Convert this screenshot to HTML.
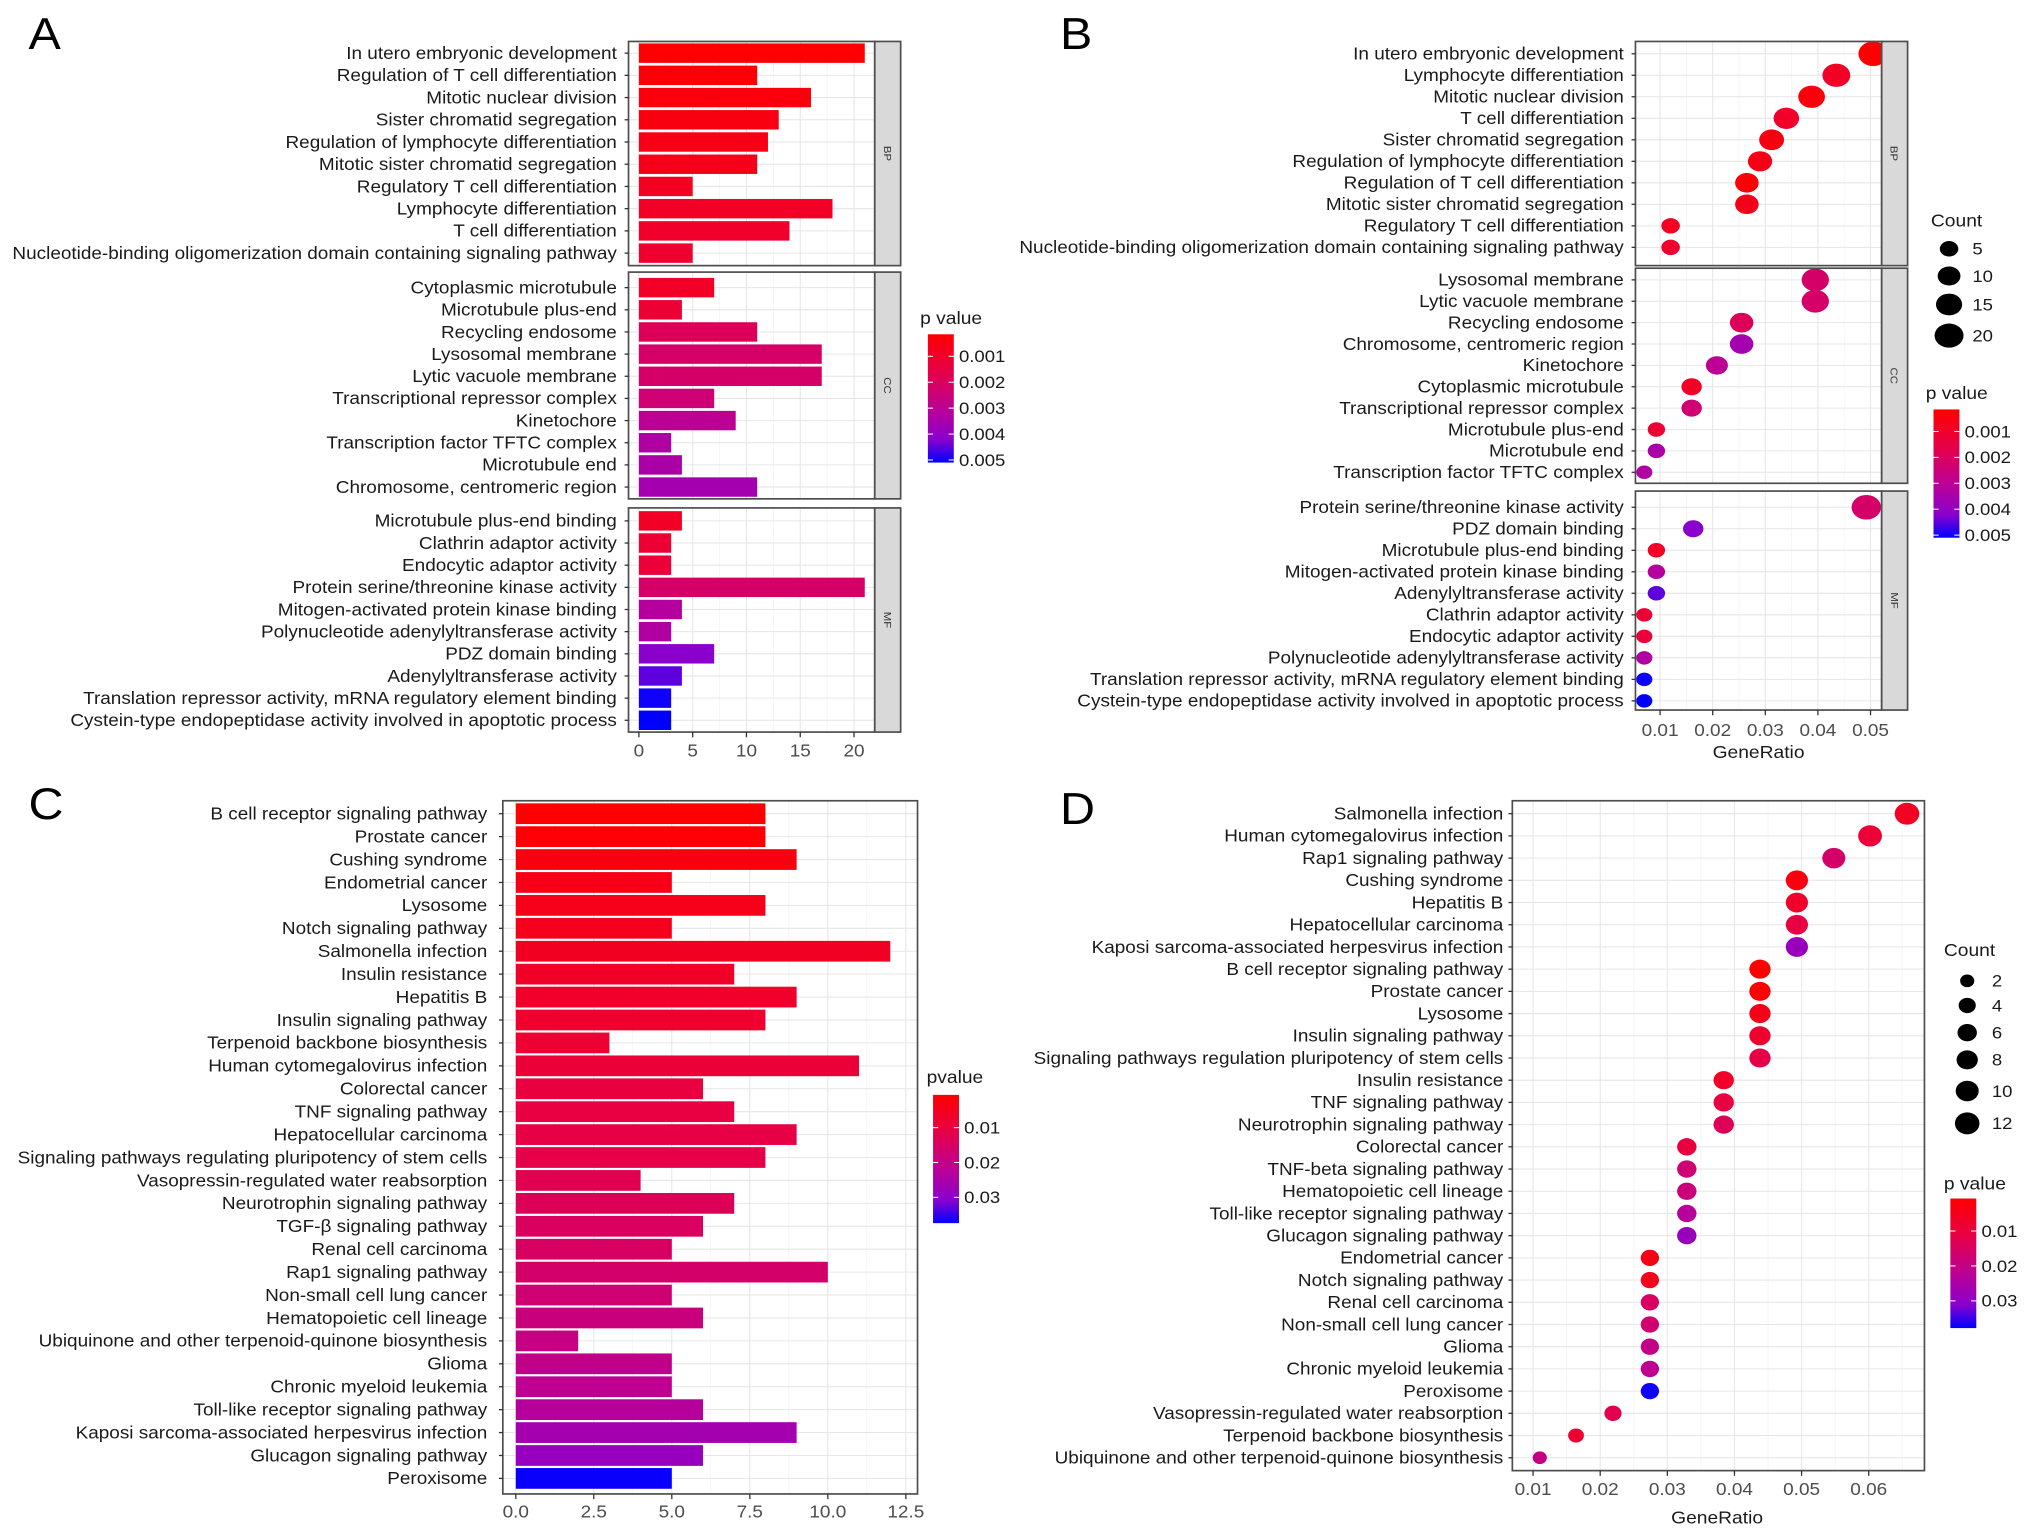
<!DOCTYPE html>
<html><head><meta charset="utf-8"><title>GO/KEGG enrichment</title>
<style>
html,body{margin:0;padding:0;background:#fff;}
svg{display:block;font-family:"Liberation Sans",Arial,sans-serif;}
</style></head>
<body>
<svg id="fig" width="2032" height="1538" viewBox="0 0 1568 1187" preserveAspectRatio="none" xmlns="http://www.w3.org/2000/svg">
<defs>
<linearGradient id="gA" x1="0" y1="0" x2="0" y2="1">
<stop offset="0" stop-color="#ff0000"/><stop offset="0.3" stop-color="#e5004a"/><stop offset="0.6" stop-color="#b8009a"/><stop offset="0.82" stop-color="#8a00cc"/><stop offset="1" stop-color="#0000ff"/>
</linearGradient>
</defs>
</svg>
<script>
// ---------- Panel A data (GO bar) ----------
const aBPTerms = ["In utero embryonic development","Regulation of T cell differentiation","Mitotic nuclear division","Sister chromatid segregation","Regulation of lymphocyte differentiation","Mitotic sister chromatid segregation","Regulatory T cell differentiation","Lymphocyte differentiation","T cell differentiation","Nucleotide-binding oligomerization domain containing signaling pathway"];
const aBPCounts = [21,11,16,13,12,11,5,18,14,5];
const aBPP = [0.0002,0.0003,0.0004,0.0005,0.0006,0.0007,0.0008,0.0009,0.0010,0.0011];
const aCCTerms = ["Cytoplasmic microtubule","Microtubule plus-end","Recycling endosome","Lysosomal membrane","Lytic vacuole membrane","Transcriptional repressor complex","Kinetochore","Transcription factor TFTC complex","Microtubule end","Chromosome, centromeric region"];
const aCCCounts = [7,4,11,17,17,7,9,3,4,11];
const aCCP = [0.0009,0.0012,0.0019,0.0022,0.0022,0.0024,0.0030,0.0033,0.0034,0.0036];
const aMFTerms = ["Microtubule plus-end binding","Clathrin adaptor activity","Endocytic adaptor activity","Protein serine/threonine kinase activity","Mitogen-activated protein kinase binding","Polynucleotide adenylyltransferase activity","PDZ domain binding","Adenylyltransferase activity","Translation repressor activity, mRNA regulatory element binding","Cystein-type endopeptidase activity involved in apoptotic process"];
const aMFCounts = [4,3,3,21,4,3,7,4,3,3];
const aMFP = [0.0009,0.0012,0.0013,0.0022,0.0032,0.0033,0.0042,0.0045,0.0050,0.0051];
const aTicks = [0,5,10,15,20];
const aLegendTicks = [0.001,0.002,0.003,0.004,0.005];

// ---------- Panel B data (GO dot) ----------
const bBPTerms = ["In utero embryonic development","Lymphocyte differentiation","Mitotic nuclear division","T cell differentiation","Sister chromatid segregation","Regulation of lymphocyte differentiation","Regulation of T cell differentiation","Mitotic sister chromatid segregation","Regulatory T cell differentiation","Nucleotide-binding oligomerization domain containing signaling pathway"];
const bBPRatio = [0.0505,0.0435,0.0388,0.0340,0.0312,0.0290,0.0265,0.0265,0.0120,0.0120];
const bBPCount = [21,18,16,14,13,12,11,11,5,5];
const bBPP = [0.0002,0.0009,0.0004,0.0010,0.0005,0.0006,0.0003,0.0007,0.0008,0.0011];
const bCCTerms = ["Lysosomal membrane","Lytic vacuole membrane","Recycling endosome","Chromosome, centromeric region","Kinetochore","Cytoplasmic microtubule","Transcriptional repressor complex","Microtubule plus-end","Microtubule end","Transcription factor TFTC complex"];
const bCCRatio = [0.0395,0.0395,0.0255,0.0255,0.0208,0.0160,0.0160,0.0093,0.0093,0.0070];
const bCCCount = [17,17,11,11,9,7,7,4,4,3];
const bCCP = [0.0022,0.0022,0.0019,0.0036,0.0030,0.0009,0.0024,0.0012,0.0034,0.0033];
const bMFTerms = ["Protein serine/threonine kinase activity","PDZ domain binding","Microtubule plus-end binding","Mitogen-activated protein kinase binding","Adenylyltransferase activity","Clathrin adaptor activity","Endocytic adaptor activity","Polynucleotide adenylyltransferase activity","Translation repressor activity, mRNA regulatory element binding","Cystein-type endopeptidase activity involved in apoptotic process"];
const bMFRatio = [0.0492,0.0163,0.0093,0.0093,0.0093,0.0070,0.0070,0.0070,0.0070,0.0070];
const bMFCount = [21,7,4,4,4,3,3,3,3,3];
const bMFP = [0.0022,0.0042,0.0009,0.0032,0.0045,0.0012,0.0013,0.0033,0.0050,0.0051];
const bTicks = [0.01,0.02,0.03,0.04,0.05];
const bCountLegend = [5,10,15,20];

// ---------- Panel C data (KEGG bar) ----------
const cTerms = ["B cell receptor signaling pathway","Prostate cancer","Cushing syndrome","Endometrial cancer","Lysosome","Notch signaling pathway","Salmonella infection","Insulin resistance","Hepatitis B","Insulin signaling pathway","Terpenoid backbone biosynthesis","Human cytomegalovirus infection","Colorectal cancer","TNF signaling pathway","Hepatocellular carcinoma","Signaling pathways regulating pluripotency of stem cells","Vasopressin-regulated water reabsorption","Neurotrophin signaling pathway","TGF-β signaling pathway","Renal cell carcinoma","Rap1 signaling pathway","Non-small cell lung cancer","Hematopoietic cell lineage","Ubiquinone and other terpenoid-quinone biosynthesis","Glioma","Chronic myeloid leukemia","Toll-like receptor signaling pathway","Kaposi sarcoma-associated herpesvirus infection","Glucagon signaling pathway","Peroxisome"];
const cCounts = [8,8,9,5,8,5,12,7,9,8,3,11,6,7,9,8,4,7,6,5,10,5,6,2,5,5,6,9,6,5];
const cP = [0.0008,0.0010,0.0030,0.0040,0.0045,0.0050,0.0060,0.0065,0.0070,0.0075,0.0080,0.0090,0.0100,0.0105,0.0110,0.0115,0.0125,0.0135,0.0145,0.0150,0.0160,0.0170,0.0185,0.0195,0.0205,0.0215,0.0230,0.0260,0.0285,0.0370];
const cTicks = [0,2.5,5,7.5,10,12.5];
const cLegendTicks = [0.01,0.02,0.03];

// ---------- Panel D data (KEGG dot) ----------
const dTerms = ["Salmonella infection","Human cytomegalovirus infection","Rap1 signaling pathway","Cushing syndrome","Hepatitis B","Hepatocellular carcinoma","Kaposi sarcoma-associated herpesvirus infection","B cell receptor signaling pathway","Prostate cancer","Lysosome","Insulin signaling pathway","Signaling pathways regulation pluripotency of stem cells","Insulin resistance","TNF signaling pathway","Neurotrophin signaling pathway","Colorectal cancer","TNF-beta signaling pathway","Hematopoietic cell lineage","Toll-like receptor signaling pathway","Glucagon signaling pathway","Endometrial cancer","Notch signaling pathway","Renal cell carcinoma","Non-small cell lung cancer","Glioma","Chronic myeloid leukemia","Peroxisome","Vasopressin-regulated water reabsorption","Terpenoid backbone biosynthesis","Ubiquinone and other terpenoid-quinone biosynthesis"];
const dRatio = [0.0657,0.0602,0.0548,0.0493,0.0493,0.0493,0.0493,0.0438,0.0438,0.0438,0.0438,0.0438,0.0384,0.0384,0.0384,0.0329,0.0329,0.0329,0.0329,0.0329,0.0274,0.0274,0.0274,0.0274,0.0274,0.0274,0.0274,0.0219,0.0164,0.0110];
const dCount = [12,11,10,9,9,9,9,8,8,8,8,8,7,7,7,6,6,6,6,6,5,5,5,5,5,5,5,4,3,2];
const dP = [0.0060,0.0090,0.0160,0.0030,0.0070,0.0110,0.0285,0.0008,0.0010,0.0045,0.0075,0.0115,0.0065,0.0105,0.0135,0.0100,0.0175,0.0185,0.0230,0.0285,0.0040,0.0050,0.0150,0.0170,0.0205,0.0215,0.0370,0.0125,0.0080,0.0195];
const dTicks = [0.01,0.02,0.03,0.04,0.05,0.06];
const dTickLabels = ["0.01","0.02","0.03","0.04","0.05","0.06"];
const dCountLegend = [2,4,6,8,10,12];
const dLegendTicks = [0.01,0.02,0.03];

// ---------- helpers ----------
const NS = "http://www.w3.org/2000/svg";
const svg = document.getElementById("fig");
const STRETCH = 1.1;
function mk(tag, parent){ const e = document.createElementNS(NS, tag); (parent||svg).appendChild(e); return e; }
function setA(e, o){ for (const k in o) e.setAttribute(k, o[k]); return e; }
function txt(parent, x, y, s, size, anchor, fill){
  const t = mk("text", parent);
  setA(t, {x:x, y:y, "font-size":size, "text-anchor":anchor||"start", fill:fill||"#1a1a1a"});
  t.textContent = s;
  try {
    const w = t.getComputedTextLength();
    if (w > 0) { t.setAttribute("textLength", (w*STRETCH).toFixed(2)); t.setAttribute("lengthAdjust", "spacingAndGlyphs"); }
  } catch(e) {}
  return t;
}
const stops = [[0,[255,0,0]],[0.3,[229,0,74]],[0.6,[184,0,154]],[0.82,[138,0,204]],[1,[0,0,255]]];
function colorT(t){
  t = Math.max(0, Math.min(1, t));
  for (let i=1;i<stops.length;i++){
    if (t <= stops[i][0]){
      const a = stops[i-1], b = stops[i], f = (t-a[0])/(b[0]-a[0]);
      const c = a[1].map((v,j)=>Math.round(v+(b[1][j]-v)*f));
      return "rgb("+c.join(",")+")";
    }
  }
  return "rgb(0,0,255)";
}
function panelFrame(g, x0, y0, x1, y1, gridXs, minorXs, rowYs){
  const bg = mk("rect", g); setA(bg, {x:x0,y:y0,width:x1-x0,height:y1-y0,fill:"#fff"});
  minorXs.forEach(x=>{ const l = mk("line", g); setA(l,{x1:x,x2:x,y1:y0,y2:y1,stroke:"#f2f2f2","stroke-width":0.5}); });
  gridXs.forEach(x=>{ const l = mk("line", g); setA(l,{x1:x,x2:x,y1:y0,y2:y1,stroke:"#e6e6e6","stroke-width":0.8}); });
  rowYs.forEach(y=>{ const l = mk("line", g); setA(l,{x1:x0,x2:x1,y1:y,y2:y,stroke:"#e6e6e6","stroke-width":0.8}); });
}
function border(g, x0, y0, x1, y1){ const r = mk("rect", g); setA(r,{x:x0,y:y0,width:x1-x0,height:y1-y0,fill:"none",stroke:"#4d4d4d","stroke-width":1.3}); return r; }
function strip(g, x0, y0, x1, y1, label){
  const r = mk("rect", g); setA(r,{x:x0,y:y0,width:x1-x0,height:y1-y0,fill:"#d9d9d9",stroke:"#4d4d4d","stroke-width":1.3});
  
  
  const cx = (x0+x1)/2, cy = (y0+y1)/2;
  const t = txt(g, cx, cy, label, 8, "middle", "#333");
  t.setAttribute("transform", "rotate(90 "+cx+" "+cy+")");
  t.setAttribute("dy", "3");
  
  
}
function rowLabels(g, xr, ys, terms, tickX){
  terms.forEach((s,i)=>{
    const t = txt(g, xr, ys[i]+4.5, s, 13.3, "end", "#1a1a1a");
    
    
    const l = mk("line", g); setA(l,{x1:tickX-3,x2:tickX,y1:ys[i],y2:ys[i],stroke:"#333","stroke-width":1});
  });
}
function gradLegend(g, title, tx, ty, bx, by0, by1, ticks, yOf, fmt){
  const tt = txt(g, tx, ty, title, 13.5, "start", "#1a1a1a");
  
  
  const r = mk("rect", g); setA(r,{x:bx,y:by0,width:20,height:by1-by0,fill:"url(#gA)"});
  
  
  ticks.forEach((v,i)=>{
    const y = yOf(v);
    const l1 = mk("line", g); setA(l1,{x1:bx,x2:bx+4,y1:y,y2:y,stroke:"#fff","stroke-width":0.8});
    const l2 = mk("line", g); setA(l2,{x1:bx+16,x2:bx+20,y1:y,y2:y,stroke:"#fff","stroke-width":0.8});
    const t = txt(g, bx+24, y+4.5, fmt(v), 13, "start", "#1a1a1a");
    
    
  });
}
function panelLetter(s, x, y){
  const t = txt(svg, x, y, s, 34, "start", "#000");
  
  
}
function rows(y0, step, n){ const r=[]; for(let i=0;i<n;i++) r.push(y0+i*step); return r; }

// ---------- Panel A ----------
(function(){
  const g = mk("g");  
  panelLetter("A", 22, 38);
  const x0=485, x1=675, sx0=493, pxPer=8.3;
  const xs = v => sx0 + v*pxPer;
  const pMin=0.00015, pMax=0.0051, cbT=258, cbB=357;
  const pT = p => (p-pMin)/(pMax-pMin);
  const facets = [
    {terms:aBPTerms, counts:aBPCounts, p:aBPP, y0:32, y1:205, first:41, step:17.15, lab:"BP"},
    {terms:aCCTerms, counts:aCCCounts, p:aCCP, y0:210, y1:385, first:222, step:17.1, lab:"CC"},
    {terms:aMFTerms, counts:aMFCounts, p:aMFP, y0:392, y1:565, first:402, step:17.1, lab:"MF"}
  ];
  const grid = aTicks.map(xs), minor = [2.5,7.5,12.5,17.5,22.5].map(xs).filter(x=>x<x1);
  facets.forEach(f=>{
    const ys = rows(f.first, f.step, f.terms.length);
    panelFrame(g, x0, f.y0, x1, f.y1, grid, minor, ys);
    f.counts.forEach((c,i)=>{
      const b = mk("rect", g);
      setA(b,{x:xs(0), y:ys[i]-7.5, width:xs(c)-xs(0), height:15, fill:colorT(pT(f.p[i]))});
      
      
    });
    border(g, x0, f.y0, x1, f.y1);
    strip(g, x1, f.y0, 695, f.y1, f.lab);
    rowLabels(g, 476, ys, f.terms, x0);
  });
  aTicks.forEach(v=>{
    const l = mk("line", g); setA(l,{x1:xs(v),x2:xs(v),y1:565,y2:569,stroke:"#333"});
    const t = txt(g, xs(v), 584, String(v), 13.3, "middle", "#4d4d4d");
    
    
  });
  gradLegend(g, "p value", 710, 250, 716, cbT, cbB, aLegendTicks, p => cbT + pT(p)*(cbB-cbT), v=>v.toFixed(3));
})();

// ---------- Panel B ----------
(function(){
  const g = mk("g");  
  panelLetter("B", 818, 38);
  const x0=1262, x1=1452, pxPer=4060;
  const xs = v => 1281 + (v-0.01)*pxPer;
  const rad = c => 2.6 + 1.5*Math.sqrt(c);
  const pMin=0.00015, pMax=0.0051, cbT=316, cbB=415;
  const pT = p => (p-pMin)/(pMax-pMin);
  const facets = [
    {terms:bBPTerms, r:bBPRatio, c:bBPCount, p:bBPP, y0:32, y1:205, first:41.5, step:16.6, lab:"BP"},
    {terms:bCCTerms, r:bCCRatio, c:bCCCount, p:bCCP, y0:207, y1:373, first:216, step:16.5, lab:"CC"},
    {terms:bMFTerms, r:bMFRatio, c:bMFCount, p:bMFP, y0:379, y1:548, first:391.5, step:16.6, lab:"MF"}
  ];
  const grid = bTicks.map(xs), minor = [0.005,0.015,0.025,0.035,0.045,0.055].map(xs).filter(x=>x>x0&&x<x1);
  facets.forEach(f=>{
    const ys = rows(f.first, f.step, f.terms.length);
    panelFrame(g, x0, f.y0, x1, f.y1, grid, minor, ys);
    f.r.forEach((v,i)=>{
      const e = mk("ellipse", g);
      const rr = rad(f.c[i]);
      setA(e,{cx:xs(v), cy:ys[i], rx:rr*1.2, ry:rr, fill:colorT(pT(f.p[i]))});
      
      
    });
    border(g, x0, f.y0, x1, f.y1);
    strip(g, x1, f.y0, 1472, f.y1, f.lab);
    rowLabels(g, 1253, ys, f.terms, x0);
  });
  bTicks.forEach(v=>{
    const l = mk("line", g); setA(l,{x1:xs(v),x2:xs(v),y1:548,y2:552,stroke:"#333"});
    const t = txt(g, xs(v), 568, v.toFixed(2), 13.3, "middle", "#4d4d4d");
    
    
  });
  const xl = txt(g, 1357, 585, "GeneRatio", 13.5, "middle", "#1a1a1a");
  
  
  const ct = txt(g, 1490, 175, "Count", 13.5, "start", "#1a1a1a");
  
  
  const cy = [192,213,235,259];
  bCountLegend.forEach((c,i)=>{
    const e = mk("ellipse", g); const rr = rad(c);
    setA(e,{cx:1504, cy:cy[i], rx:rr*1.2, ry:rr, fill:"#000"});
    
    
    const t = txt(g, 1522, cy[i]+4.5, String(c), 13, "start", "#1a1a1a");
    
    
  });
  gradLegend(g, "p value", 1486, 308, 1492, cbT, cbB, aLegendTicks, p => cbT + pT(p)*(cbB-cbT), v=>v.toFixed(3));
})();

// ---------- Panel C ----------
(function(){
  const g = mk("g");  
  panelLetter("C", 22, 632);
  const x0=388, x1=708, y0=618, y1=1153, pxPer=24.08;
  const xs = v => 398 + v*pxPer;
  const ys = rows(628, 17.69, cTerms.length);
  const pMin=0.0006, pMax=0.0374, cbT=845, cbB=944;
  const pT = p => (p-pMin)/(pMax-pMin);
  panelFrame(g, x0, y0, x1, y1, cTicks.map(xs), [1.25,3.75,6.25,8.75,11.25].map(xs), ys);
  cCounts.forEach((c,i)=>{
    const b = mk("rect", g);
    setA(b,{x:xs(0), y:ys[i]-8, width:xs(c)-xs(0), height:16, fill:colorT(pT(cP[i]))});
    
    
  });
  border(g, x0, y0, x1, y1);
  rowLabels(g, 376, ys, cTerms, x0);
  cTicks.forEach(v=>{
    const l = mk("line", g); setA(l,{x1:xs(v),x2:xs(v),y1:y1,y2:y1+4,stroke:"#333"});
    const t = txt(g, xs(v), 1171, v.toFixed(1), 13.3, "middle", "#4d4d4d");
    
    
  });
  gradLegend(g, "pvalue", 715, 836, 720, cbT, cbB, cLegendTicks, p => cbT + pT(p)*(cbB-cbT), v=>v.toFixed(2));
})();

// ---------- Panel D ----------
(function(){
  const g = mk("g");  
  panelLetter("D", 818, 636);
  const x0=1167, x1=1485, y0=618, y1=1135, pxPer=5180;
  const xs = v => 1183 + (v-0.01)*pxPer;
  const ys = rows(628, 17.14, dTerms.length);
  const rad = c => 2.4 + 1.75*Math.sqrt(c);
  const pMin=0.0007, pMax=0.0378, cbT=925, cbB=1025;
  const pT = p => (p-pMin)/(pMax-pMin);
  panelFrame(g, x0, y0, x1, y1, dTicks.map(xs), [0.015,0.025,0.035,0.045,0.055,0.065].map(xs), ys);
  dRatio.forEach((v,i)=>{
    const e = mk("ellipse", g); const rr = rad(dCount[i]);
    setA(e,{cx:xs(v), cy:ys[i], rx:rr*1.12, ry:rr, fill:colorT(pT(dP[i]))});
    
    
  });
  border(g, x0, y0, x1, y1);
  rowLabels(g, 1160, ys, dTerms, x0);
  dTicks.forEach((v,i)=>{
    const l = mk("line", g); setA(l,{x1:xs(v),x2:xs(v),y1:y1,y2:y1+4,stroke:"#333"});
    const t = txt(g, xs(v), 1154, dTickLabels[i], 13.3, "middle", "#4d4d4d");
    
    
  });
  const xl = txt(g, 1325, 1176, "GeneRatio", 13.5, "middle", "#1a1a1a");
  
  
  const ct = txt(g, 1500, 738, "Count", 13.5, "start", "#1a1a1a");
  
  
  const cy = [757,776,797,818,842,867];
  dCountLegend.forEach((c,i)=>{
    const e = mk("ellipse", g); const rr = rad(c);
    setA(e,{cx:1518, cy:cy[i], rx:rr*1.12, ry:rr, fill:"#000"});
    
    
    const t = txt(g, 1537, cy[i]+4.5, String(c), 13, "start", "#1a1a1a");
    
    
  });
  gradLegend(g, "p value", 1500, 918, 1505, cbT, cbB, dLegendTicks, p => cbT + pT(p)*(cbB-cbT), v=>v.toFixed(2));
})();
</script>
</body></html>
